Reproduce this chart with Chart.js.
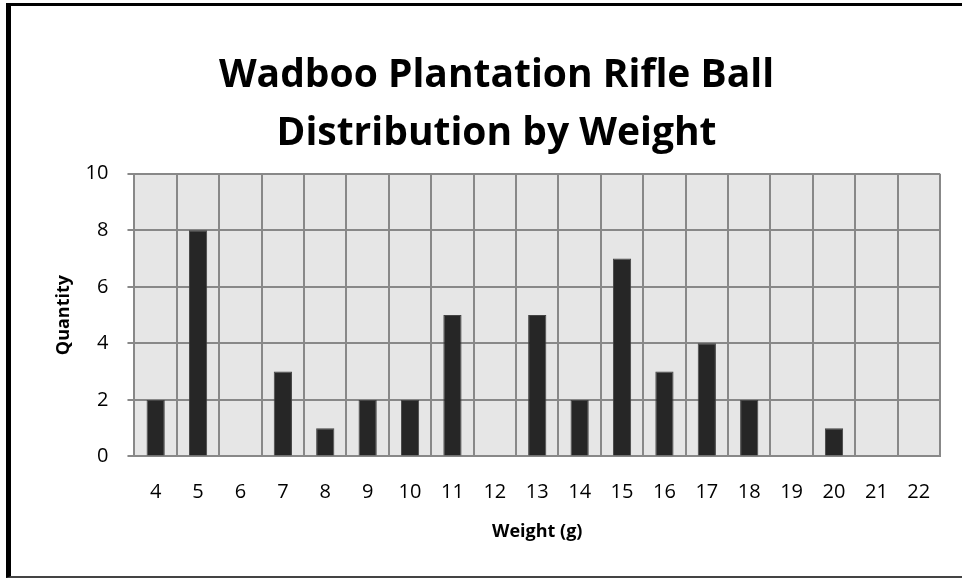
<!DOCTYPE html>
<html>
<head>
<meta charset="utf-8">
<script src="https://cdn.jsdelivr.net/npm/chart.js@4"></script>
<style>
    html, body { margin: 0; padding: 0; background: #fff; overflow: hidden; }
    #wrap { position: relative; width: 962px; height: 578px; }
    #frame {
        position: absolute; left: 6px; top: 3px; width: 980px; height: 570px;
        border-left: 5px solid #000; border-top: 3px solid #000; border-bottom: 2px solid #444;
        pointer-events: none;
    }
</style>
</head>
<body>
<div id="wrap">
    <canvas id="chart" width="962" height="578"></canvas>
    <div id="frame"></div>
</div>
<script>
const weights = ['4', '5', '6', '7', '8', '9', '10', '11', '12', '13', '14', '15', '16', '17', '18', '19', '20', '21', '22'];
const quantities = [2, 8, 0, 3, 1, 2, 2, 5, 0, 5, 2, 7, 3, 4, 2, 0, 1, 0, 0];
const titleLines = ['Wadboo Plantation Rifle Ball', 'Distribution by Weight'];

const fontFamily = '"Open Sans", sans-serif';

// grey plot background behind the bars
const plotBackground = {
    id: 'plotBackground',
    beforeDraw(chart) {
        const { ctx, chartArea: a } = chart;
        ctx.save();
        ctx.fillStyle = '#e6e6e6';
        ctx.fillRect(a.left, a.top, a.right - a.left, a.bottom - a.top);
        ctx.restore();
    }
};

const ctx = document.getElementById('chart').getContext('2d');
new Chart(ctx, {
    type: 'bar',
    data: {
        labels: weights,
        datasets: [{
            label: 'Quantity',
            data: quantities,
            backgroundColor: '#262626',
            borderColor: '#444',
            borderWidth: 1,
            categoryPercentage: 1,
            barPercentage: 0.43
        }]
    },
    options: {
        responsive: false,
        animation: false,
        layout: {
            padding: { left: 53, right: 22, top: 14, bottom: 35 }
        },
        plugins: {
            legend: { display: false },
            tooltip: { enabled: false },
            title: {
                display: true,
                text: titleLines,
                color: '#000',
                font: { family: fontFamily, size: 39, weight: 'bold', lineHeight: 1.51 },
                padding: { top: 32, bottom: 10 }
            }
        },
        scales: {
            x: {
                grid: { color: '#888', lineWidth: 2, offset: true, drawTicks: false },
                border: { color: '#888', width: 2 },
                ticks: { color: '#000', font: { family: fontFamily, size: 20 }, padding: 24, maxRotation: 0 },
                title: {
                    display: true,
                    text: 'Weight (g)',
                    color: '#000',
                    font: { family: fontFamily, size: 18, weight: 'bold' },
                    padding: { top: -7, bottom: 0 }
                }
            },
            y: {
                min: 0,
                max: 10,
                ticks: { stepSize: 2, color: '#000', font: { family: fontFamily, size: 20 }, padding: 19 },
                grid: { color: '#888', lineWidth: 2, tickLength: 7 },
                border: { color: '#888', width: 2 },
                title: {
                    display: true,
                    text: 'Quantity',
                    color: '#000',
                    font: { family: fontFamily, size: 18, weight: 'bold' },
                    padding: { top: 0, bottom: -8 }
                }
            }
        }
    },
    plugins: [plotBackground]
});
</script>
</body>
</html>
